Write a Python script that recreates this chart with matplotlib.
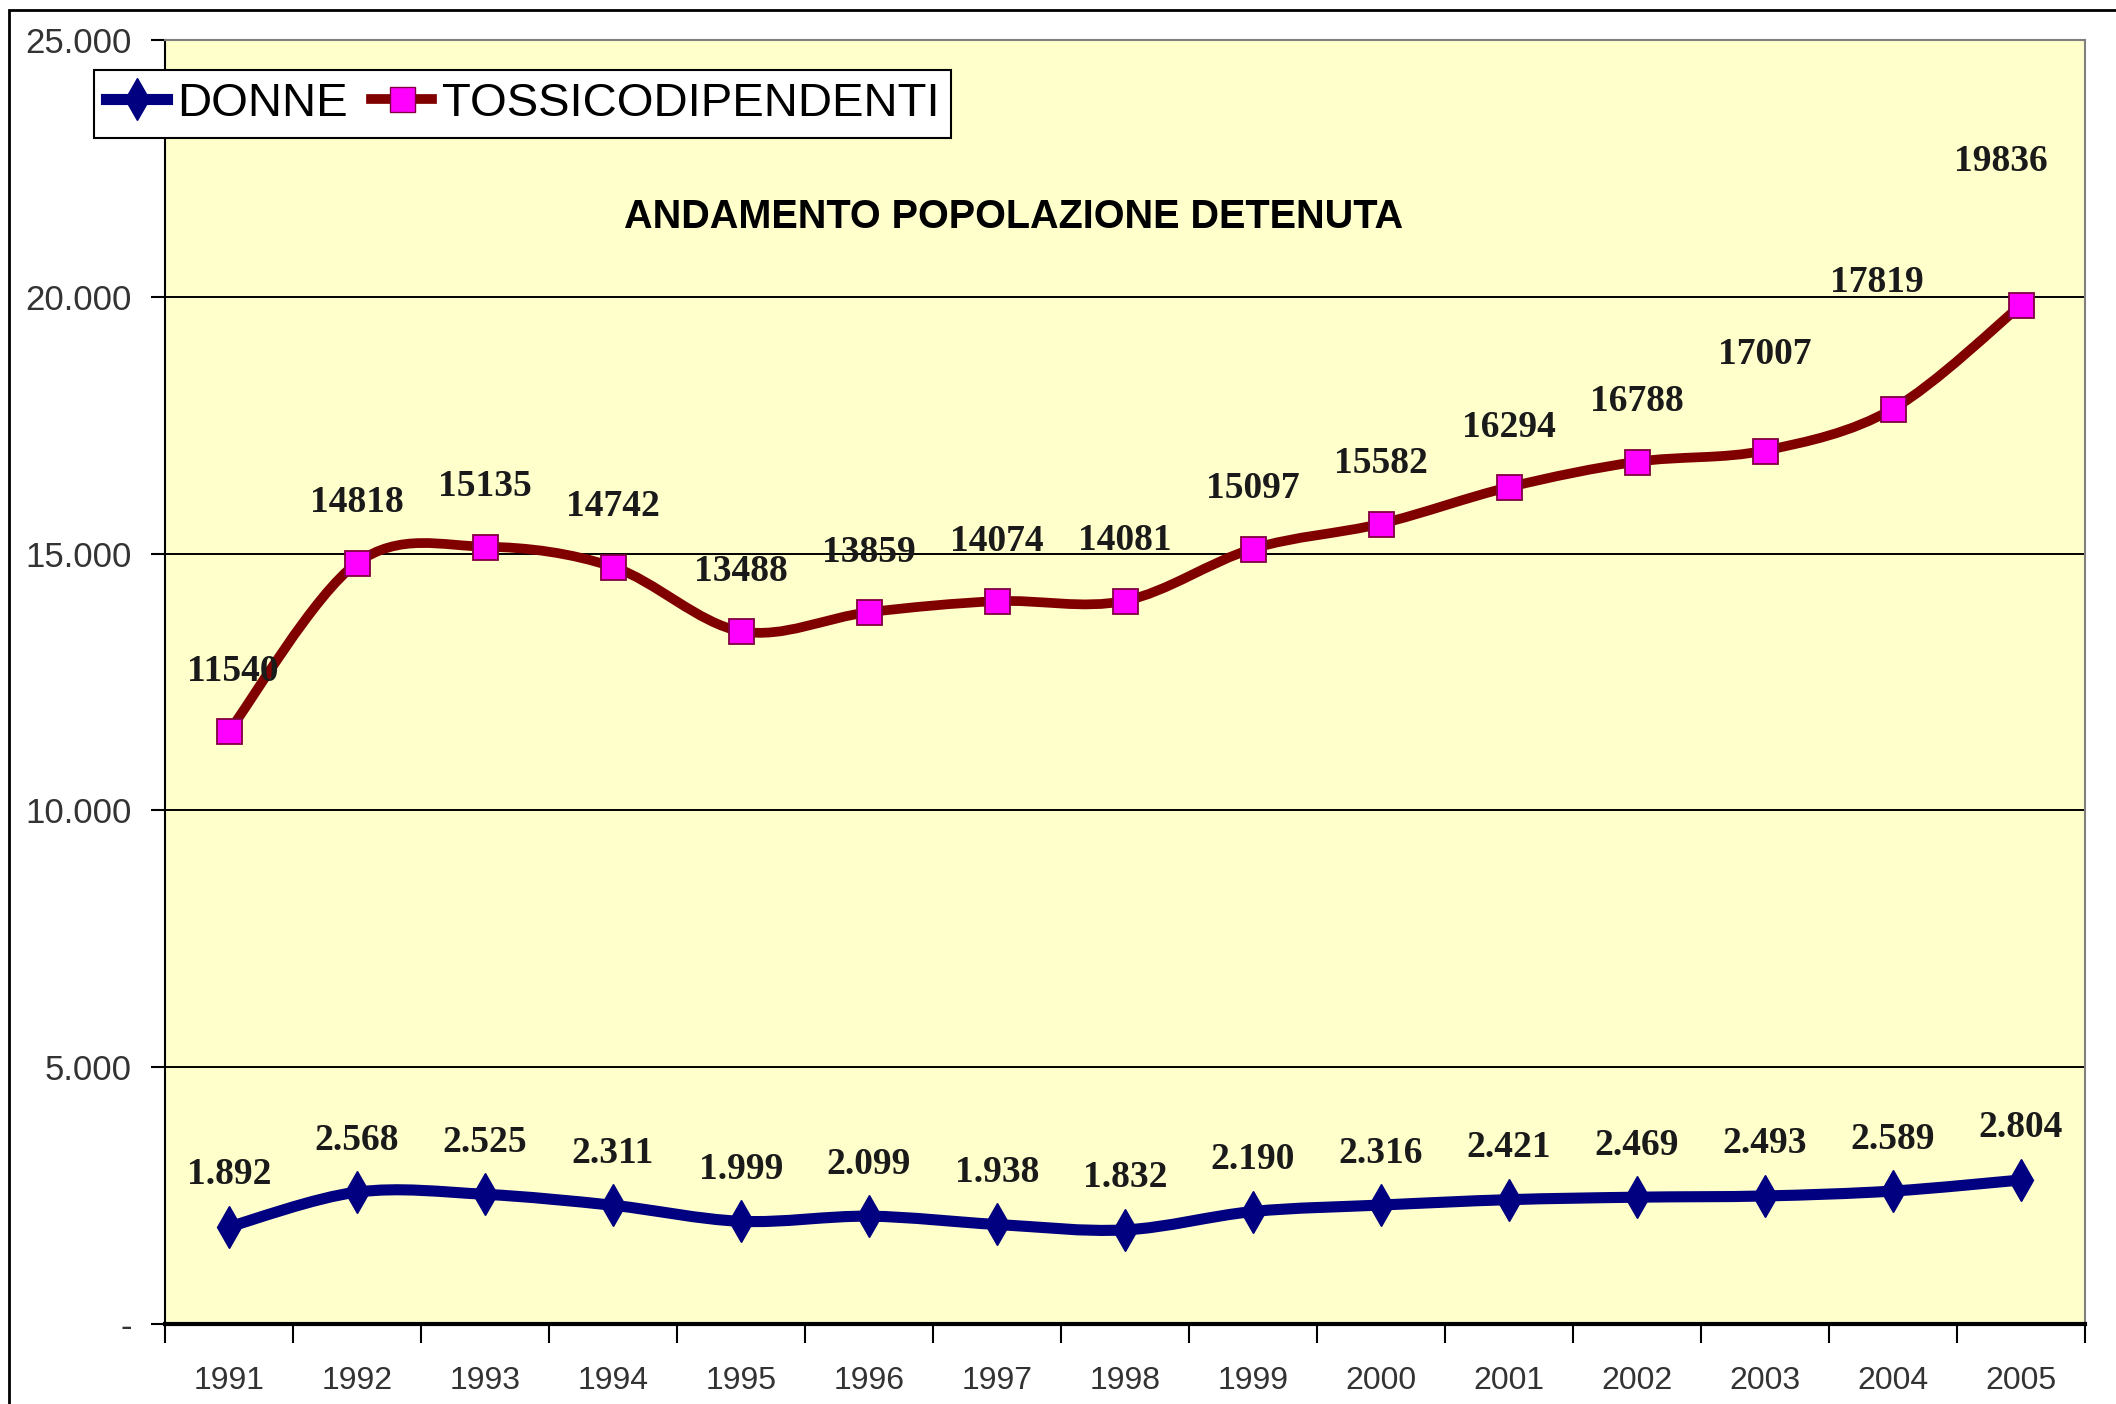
import matplotlib.pyplot as plt
from matplotlib.path import Path
from matplotlib.patches import PathPatch, Rectangle
from matplotlib.lines import Line2D
import numpy as np

# data
anni = ['1991', '1992', '1993', '1994', '1995', '1996', '1997', '1998',
        '1999', '2000', '2001', '2002', '2003', '2004', '2005']
donne = [1892, 2568, 2525, 2311, 1999, 2099, 1938, 1832,
         2190, 2316, 2421, 2469, 2493, 2589, 2804]
tossico = [11540, 14818, 15135, 14742, 13488, 13859, 14074, 14081,
           15097, 15582, 16294, 16788, 17007, 17819, 19836]
y_ticks = [0, 5000, 10000, 15000, 20000, 25000]
y_labels = ['-', '5.000', '10.000', '15.000', '20.000', '25.000']

# extra lift (pixels) for a few labels that were moved by hand in the original
tossico_lift = [0, 0, 0, 0, 0, 0, 0, 0, 0, 0, 0, 0, 36, 66, 84]
tossico_shift = [4, 0, 0, 0, 0, 0, 0, 0, 0, 0, 0, 0, 0, -16, -20]

W, H = 2116, 1404
fig = plt.figure(figsize=(W / 100, H / 100), dpi=100)
fig.patch.set_facecolor('white')

ax = fig.add_axes([165 / W, 1 - 1324 / H, (2085 - 165) / W, (1324 - 40) / H])
ax.set_facecolor('#FFFFCC')

x = np.arange(len(anni))


def smooth_path(xs, ys):
    """Excel-like smoothed line: Catmull-Rom segments as cubic Beziers"""
    pts = np.column_stack([xs, ys]).astype(float)
    verts = [pts[0]]
    codes = [Path.MOVETO]
    n = len(pts)
    for i in range(n - 1):
        p0 = pts[max(i - 1, 0)]
        p1 = pts[i]
        p2 = pts[i + 1]
        p3 = pts[min(i + 2, n - 1)]
        c1 = p1 + (p2 - p0) / 6.0
        c2 = p2 - (p3 - p1) / 6.0
        verts += [c1, c2, p2]
        codes += [Path.CURVE4] * 3
    return Path(verts, codes)


navy = '#000080'
bordeaux = '#800000'
magenta = '#FF00FF'

ax.add_patch(PathPatch(smooth_path(x, donne), fill=False, edgecolor=navy,
                       lw=8, capstyle='round', joinstyle='round', zorder=3))
ax.add_patch(PathPatch(smooth_path(x, tossico), fill=False, edgecolor=bordeaux,
                       lw=7, capstyle='round', joinstyle='round', zorder=3))

ax.plot(x, donne, linestyle='none', marker='d', markersize=21,
        color=navy, markeredgecolor=navy, zorder=4)
ax.plot(x, tossico, linestyle='none', marker='s', markersize=18,
        markerfacecolor=magenta, markeredgecolor='#800040', markeredgewidth=1.3,
        zorder=4)

# data labels
lab_font = dict(family='Liberation Serif', weight='bold', size=27,
                color='#1a1a1a', ha='center', va='center', zorder=5)
for i, v in enumerate(donne):
    ax.annotate(f'{v // 1000}.{v % 1000:03d}', (x[i], v), xytext=(0, 52),
                textcoords='offset pixels', **lab_font)
for i, v in enumerate(tossico):
    ax.annotate(str(v), (x[i], v), xytext=(tossico_shift[i], 60 + tossico_lift[i]),
                textcoords='offset pixels', **lab_font)

ax.set_xlim(-0.5, len(anni) - 0.5)
ax.set_ylim(0, 25000)

ax.set_yticks(y_ticks)
ax.set_yticklabels(y_labels, family='Liberation Sans', fontsize=25,
                   color='#333333')
ax.tick_params(axis='y', length=10, width=1.5, pad=14, color='black')

ax.set_xticks(x)
ax.set_xticklabels(anni, family='Liberation Sans', fontsize=23, color='#333333')
ax.tick_params(axis='x', which='major', length=0, pad=30)
ax.set_xticks(np.arange(-0.5, len(anni)), minor=True)
ax.tick_params(axis='x', which='minor', length=14, width=1.5, color='black')

ax.yaxis.grid(True, color='black', lw=1.4)
ax.set_axisbelow(True)

for side in ['top', 'right']:
    ax.spines[side].set_color('#808080')
    ax.spines[side].set_linewidth(1.5)
ax.spines['left'].set_color('black')
ax.spines['left'].set_linewidth(1.5)
ax.spines['bottom'].set_color('black')
ax.spines['bottom'].set_linewidth(3)

# title inside the plot area
fig.text(1014 / W, 1 - 217 / H, 'ANDAMENTO POPOLAZIONE DETENUTA',
         family='Liberation Sans', weight='bold', fontsize=28.5,
         ha='center', va='center')

# legend
handles = [
    Line2D([], [], color=navy, lw=8, marker='d', markersize=21,
           markeredgecolor=navy),
    Line2D([], [], color=bordeaux, lw=7, marker='s', markersize=18,
           markerfacecolor=magenta, markeredgecolor='#800040'),
]
leg = fig.legend(handles, ['DONNE', 'TOSSICODIPENDENTI'], loc='upper left',
                 bbox_to_anchor=(94 / W, 1 - 70 / H), ncol=2,
                 prop={'family': 'Liberation Sans', 'size': 34},
                 frameon=True, fancybox=False, framealpha=1,
                 edgecolor='black', borderpad=0.25, borderaxespad=0,
                 handlelength=1.3, handletextpad=0.2, columnspacing=0.5)
leg.get_frame().set_linewidth(1.5)

# chart area border
fig.patches.append(Rectangle((9 / W, -0.01), 1.0, 1 - 10 / H + 0.01,
                             transform=fig.transFigure, fill=False,
                             edgecolor='black', lw=2, zorder=0))

fig.savefig('out.png', dpi=100)
